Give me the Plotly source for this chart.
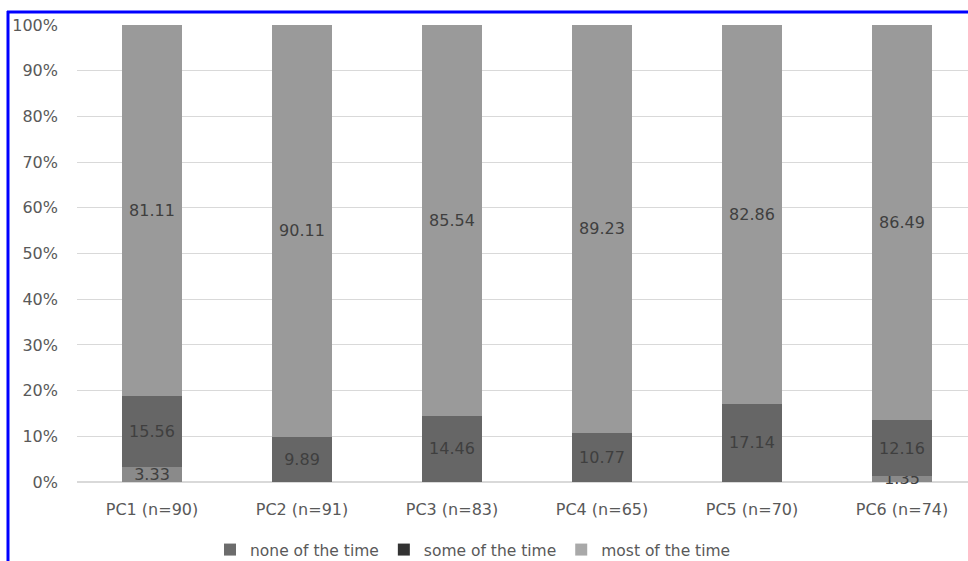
import plotly.graph_objects as go

categories = ["PC1 (n=90)", "PC2 (n=91)", "PC3 (n=83)", "PC4 (n=65)", "PC5 (n=70)", "PC6 (n=74)"]
none_vals = [3.33, 0, 0, 0, 0, 1.35]
some_vals = [15.56, 9.89, 14.46, 10.77, 17.14, 12.16]
most_vals = [81.11, 90.11, 85.54, 89.23, 82.86, 86.49]
y_ticks = [0, 10, 20, 30, 40, 50, 60, 70, 80, 90, 100]
y_tick_text = [f"{t}%" for t in y_ticks]

FONT = "DejaVu Sans"

def labels(vals):
    return [f"{v:.2f}" if v > 0 else "" for v in vals]

series = [
    ("none of the time", none_vals, "#8a8a8a", "#6c6c6c"),
    ("some of the time", some_vals, "#666666", "#333333"),
    ("most of the time", most_vals, "#9a9a9a", "#a9a9a9"),
]

fig = go.Figure()
for name, vals, color, lcolor in series:
    fig.add_trace(go.Bar(
        x=categories, y=vals, name=name, showlegend=False,
        marker=dict(color=color, line=dict(width=0)),
        text=labels(vals), textposition="inside", insidetextanchor="middle",
        constraintext="none", cliponaxis=False,
        textfont=dict(color="#3f3f3f", size=16, family=FONT),
        hoverinfo="skip",
    ))
for name, vals, color, lcolor in series:
    fig.add_trace(go.Bar(
        x=[None], y=[None], name=name, showlegend=True,
        marker=dict(color=lcolor, line=dict(width=0)),
        hoverinfo="skip",
    ))

L, T = 77, 25
W, H = 968, 561
pw, ph = W - L, 482 - T

def px(x):
    return (x - L) / pw

def py(y):
    return (482 - y) / ph

fig.update_layout(
    width=W, height=H,
    barmode="stack", bargap=0.6,
    margin=dict(l=L, r=0, t=T, b=H - 482),
    plot_bgcolor="white", paper_bgcolor="white",
    font=dict(family=FONT, size=16, color="#595959"),
    showlegend=True,
    legend=dict(orientation="h", x=px(473), xanchor="center",
                yref="container", y=(H - 550) / H, yanchor="middle",
                font=dict(size=15.5, color="#595959", family=FONT), traceorder="normal",
                itemwidth=30),
    xaxis=dict(range=[-0.5, 5.44], showline=False, ticks="", ticklabelstandoff=16,
               tickfont=dict(size=16, color="#595959", family=FONT)),
    yaxis=dict(range=[0, 100], tickvals=y_ticks, ticktext=y_tick_text, showgrid=True,
               gridcolor="#d9d9d9", gridwidth=1, zeroline=True, zerolinecolor="#d9d9d9",
               ticklabelstandoff=18, tickfont=dict(size=16, color="#595959", family=FONT)),
    shapes=[
        dict(type="line", xref="paper", yref="paper", x0=px(8), x1=px(8), y0=py(11), y1=py(600),
             line=dict(color="#0000ff", width=3)),
        dict(type="line", xref="paper", yref="paper", x0=px(7), x1=px(1000), y0=py(12), y1=py(12),
             line=dict(color="#0000ff", width=3)),
    ],
)

fig.write_html("out.html", config={"displayModeBar": False},
               post_script="document.body.style.margin='0';document.body.style.overflow='hidden';")
